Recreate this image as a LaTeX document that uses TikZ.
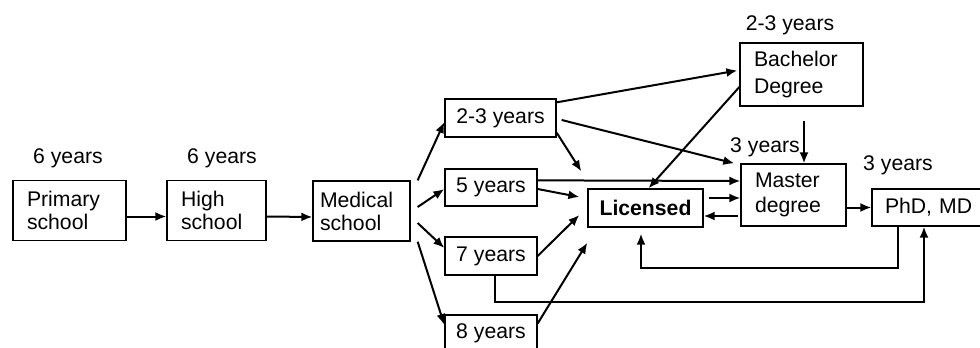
\documentclass[tikz,border=0pt]{standalone}
\usepackage{fontspec}
\setmainfont{Liberation Sans}
\usetikzlibrary{arrows.meta}
\tikzstyle{block} = [rectangle, draw=black, line width=0.65pt, inner xsep=7pt, inner ysep=0pt, align=left, font=\fontsize{10.6}{11.5}\selectfont]
\tikzstyle{yearbox} = [rectangle, draw=black, line width=0.65pt, inner sep=0pt, minimum width=46pt, minimum height=18.5pt, align=center, font=\fontsize{10.6}{12}\selectfont]
\tikzstyle{yearlabel} = [inner sep=0pt, font=\fontsize{10.6}{12}\selectfont]
\tikzstyle{arrow} = [line width=1pt, -{Latex[length=5.5pt,width=4.5pt]}]

\begin{document}
\begin{tikzpicture}[x=0.5pt, y=-0.5pt]
\useasboundingbox (0,0) rectangle (980,348);
\node (prim) [block, text width=42.5pt, minimum height=30pt] at (69.5,210.5) {Primary\\school};
\node (high) [block, text width=35.5pt, minimum height=30pt] at (216.5,210.5) {High\\school};
\node (med) [block, inner xsep=3.5pt, text width=41.5pt, minimum height=30pt] at (361.5,211) {Medical\\school};

\node (y23) [yearbox, minimum width=55.5pt, minimum height=19pt] at (500.5,118) {2-3 years};
\node (y5) [yearbox] at (491,187.5) {5 years};
\node (y7) [yearbox, minimum height=19pt] at (491,256) {7 years};
\node (y8) [yearbox] at (491,333.5) {8 years};

\node (lic) [yearbox, minimum width=57.5pt, minimum height=19pt, font=\fontsize{10.6}{12}\selectfont\bfseries] at (645.5,208) {Licensed};
\node (bach) [block, text width=47.5pt, minimum height=31.5pt, font=\fontsize{10.6}{13.2}\selectfont] at (801.5,74.5) {Bachelor\\Degree};
\node (mast) [block, text width=38.5pt, minimum height=31pt, font=\fontsize{10.6}{12.5}\selectfont] at (793.5,195) {Master\\degree};
\node (phd) [block, inner xsep=6.5pt, text width=45pt, minimum height=18.5pt] at (930,207.5) {PhD, MD};

\node (yrsprim) [yearlabel] at (68,158) {6 years};
\node (yrshigh) [yearlabel] at (222,158) {6 years};
\node (yrsbach) [yearlabel] at (790,25) {2-3 years};
\node (yrsmast) [yearlabel] at (765,147) {3 years};
\node (yrsphd) [yearlabel] at (898,165) {3 years};

\draw [arrow] ([yshift=-3pt]prim.east) -- ([yshift=-3pt]high.west);
\draw [arrow] ([yshift=-3pt]high.east) -- ([yshift=-3pt]med.west);

\draw [arrow] ([xshift=3.5pt]med.north east) -- ([yshift=-2pt]y23.west);
\draw [arrow] ([xshift=3.5pt,yshift=2pt]med.east) -- ([yshift=-0.75pt]y5.west);
\draw [arrow] ([xshift=3.5pt,yshift=-6pt]med.east) -- ([yshift=4pt]y7.west);
\draw [arrow] ([xshift=3.5pt]med.south east) -- ([yshift=4.25pt]y8.west);

\draw [arrow] ([yshift=-2pt]y23.north east) -- ([xshift=-1pt,yshift=2pt]bach.west);
\draw [arrow] ([xshift=2.5pt,yshift=-1pt]y23.east) -- ([xshift=-3pt]mast.north west);
\draw [arrow] ([yshift=2.5pt]y23.south east) -- ([xshift=-3pt,yshift=8.5pt]lic.north west);
\draw [arrow] ([yshift=-6.25pt]bach.west) -- ([xshift=1.5pt]lic.north);
\draw [arrow] ([xshift=1.25pt,yshift=-7pt]bach.south) -- ([xshift=5.25pt]mast.north);

\draw [arrow] ([yshift=-6pt]y5.north east) -- ([yshift=7pt]mast.west);
\draw [arrow] ([yshift=-0.75pt]y5.east) -- ([xshift=-4pt,yshift=5.5pt]lic.west);
\draw [arrow] (y7.east) -- ([xshift=-4pt,yshift=-3.5pt]lic.west);
\draw [arrow] ([yshift=5pt]y8.east) -- ([yshift=-7.5pt]lic.south west);

\draw [arrow] ([xshift=2.5pt,yshift=5pt]lic.east) -- ([yshift=-1.5pt]mast.west);
\draw [arrow] ([xshift=-1pt,yshift=-10.5pt]mast.west) -- ([yshift=-4pt]lic.east);
\draw [arrow] (mast.east |- phd.west) -- (phd.west);

\draw [arrow] ([xshift=-16pt]phd.south) -- ++(0,41) -| ([xshift=-2.25pt,yshift=-3pt]lic.south);
\draw [arrow] ([xshift=2pt]y7.south) -- ++(0,26) -| ([xshift=-3pt]phd.south);

\end{tikzpicture}
\end{document}
